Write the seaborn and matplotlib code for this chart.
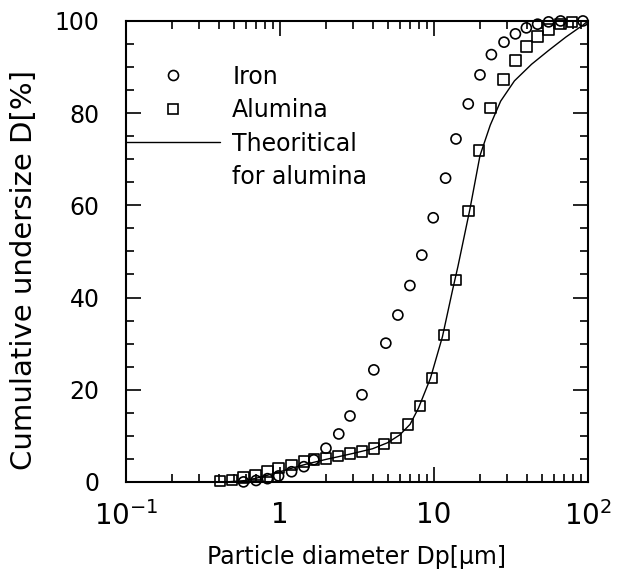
"""Cumulative undersize of iron and alumina powders versus particle diameter."""

import matplotlib

matplotlib.use("Agg")
import matplotlib.pyplot as plt
from matplotlib.lines import Line2D
from matplotlib.ticker import LogLocator, MultipleLocator, NullFormatter
import pandas as pd
import seaborn as sns

# measured points, iron powder
IRON_DP = [0.58, 0.70, 0.83, 0.98, 1.19, 1.43, 1.66, 1.99, 2.41, 2.85, 3.41,
           4.07, 4.87, 5.83, 6.98, 8.34, 9.89, 11.9, 13.9, 16.7, 19.9, 23.6,
           28.5, 33.8, 39.8, 47.1, 55.5, 66.4, 92.7]
IRON_D = [0.0, 0.3, 0.7, 1.3, 2.2, 3.3, 4.8, 7.3, 10.4, 14.3, 18.9,
          24.3, 30.1, 36.2, 42.6, 49.2, 57.3, 65.9, 74.4, 82.0, 88.3, 92.7,
          95.4, 97.2, 98.5, 99.3, 99.8, 100.0, 100.0]

# measured points, alumina powder
ALUMINA_DP = [0.407, 0.487, 0.582, 0.696, 0.833, 0.98, 1.19, 1.43, 1.66, 1.99,
              2.38, 2.85, 3.41, 4.07, 4.75, 5.68, 6.80, 8.13, 9.73, 11.65,
              13.9, 16.7, 19.6, 23.2, 28.2, 33.8, 39.8, 47.1, 55.5, 66.4, 78.6]
ALUMINA_D = [0.2, 0.4, 0.9, 1.5, 2.2, 3.0, 3.7, 4.4, 4.8, 5.1,
             5.6, 6.2, 6.6, 7.2, 8.2, 9.5, 12.4, 16.5, 22.5, 31.9,
             43.8, 58.8, 71.9, 81.1, 87.3, 91.4, 94.4, 96.6, 98.1, 99.3, 99.8]

# theoretical curve for alumina
THEORY_DP = [0.45, 0.6, 0.7, 0.8, 1.0, 1.2, 1.5, 2.0, 2.5, 3.0, 4.0, 5.0, 6.0,
             7.0, 7.93, 9.49, 11.35, 13.2, 14.3, 17.1, 19.9, 23.2, 27.1, 33.3,
             43.0, 55.5, 71.8, 92.7, 100.0]
THEORY_D = [0.0, 0.3, 0.8, 1.3, 2.2, 3.0, 3.9, 4.9, 5.6, 6.2, 7.2, 8.5, 10.2,
            12.5, 16.0, 22.5, 31.5, 41.6, 46.7, 59.1, 70.8, 77.4, 82.6, 87.0,
            90.6, 93.6, 96.5, 99.1, 100.0]

X_TICKS = [0.1, 1, 10, 100]
X_TICK_LABELS = ["$10^{-1}$", "1", "10", "$10^{2}$"]
Y_TICKS = [0, 20, 40, 60, 80, 100]

sns.set_theme(style="ticks", rc={
    "text.color": "black",
    "axes.labelcolor": "black",
    "xtick.color": "black",
    "ytick.color": "black",
})
plt.rcParams["font.family"] = ["DejaVu Sans"]
plt.rcParams["mathtext.default"] = "regular"

iron = pd.DataFrame({"dp": IRON_DP, "d": IRON_D})
alumina = pd.DataFrame({"dp": ALUMINA_DP, "d": ALUMINA_D})
theory = pd.DataFrame({"dp": THEORY_DP, "d": THEORY_D})

fig = plt.figure(figsize=(6.36, 5.82), dpi=100)
ax = fig.add_axes([0.198, 0.172, 0.7265, 0.792])

sns.lineplot(data=theory, x="dp", y="d", color="black", linewidth=1.0,
             sort=False, ax=ax)
sns.scatterplot(data=iron, x="dp", y="d", marker="o", s=52,
                facecolor="none", edgecolor="black", linewidth=1.2,
                clip_on=False, zorder=3, ax=ax)
sns.scatterplot(data=alumina, x="dp", y="d", marker="s", s=58,
                facecolor="none", edgecolor="black", linewidth=1.2,
                clip_on=False, zorder=3, ax=ax)

ax.set_xscale("log")
ax.set_xlim(0.1, 100)
ax.set_ylim(0, 100)
ax.set_xticks(X_TICKS, labels=X_TICK_LABELS)
ax.xaxis.set_minor_locator(LogLocator(base=10, subs=range(2, 10)))
ax.xaxis.set_minor_formatter(NullFormatter())
ax.set_yticks(Y_TICKS)
ax.yaxis.set_minor_locator(MultipleLocator(5))

ax.tick_params(axis="both", which="both", direction="in", top=True,
               right=True, color="black", width=1.2)
ax.tick_params(axis="both", which="major", length=11)
ax.tick_params(axis="both", which="minor", length=6)
ax.tick_params(axis="x", which="major", labelsize=20, pad=14)
ax.tick_params(axis="y", which="major", labelsize=17, pad=19)
for spine in ax.spines.values():
    spine.set_linewidth(1.5)
    spine.set_color("black")

ax.set_xlabel("Particle diameter Dp[\u03bcm]", fontsize=17, labelpad=10)
ax.set_ylabel("Cumulative undersize D[%]", fontsize=21)
ax.yaxis.set_label_coords(-0.19, 0.46)

handles = [
    Line2D([], [], marker="o", linestyle="none", markerfacecolor="none",
           markeredgecolor="black", markersize=7.2, markeredgewidth=1.2),
    Line2D([], [], marker="s", linestyle="none", markerfacecolor="none",
           markeredgecolor="black", markersize=7.5, markeredgewidth=1.2),
    Line2D([], [], color="black", linewidth=1.0),
    Line2D([], [], linestyle="none"),
]
labels = ["Iron", "Alumina", "Theoritical", "for alumina"]
ax.legend(handles, labels, loc="upper left", bbox_to_anchor=(0, 0.905),
          frameon=False, fontsize=17, handlelength=4.0, handletextpad=0.5,
          labelspacing=0.4, borderpad=0, borderaxespad=0)

fig.savefig("out.png", dpi=100)
plt.close(fig)
